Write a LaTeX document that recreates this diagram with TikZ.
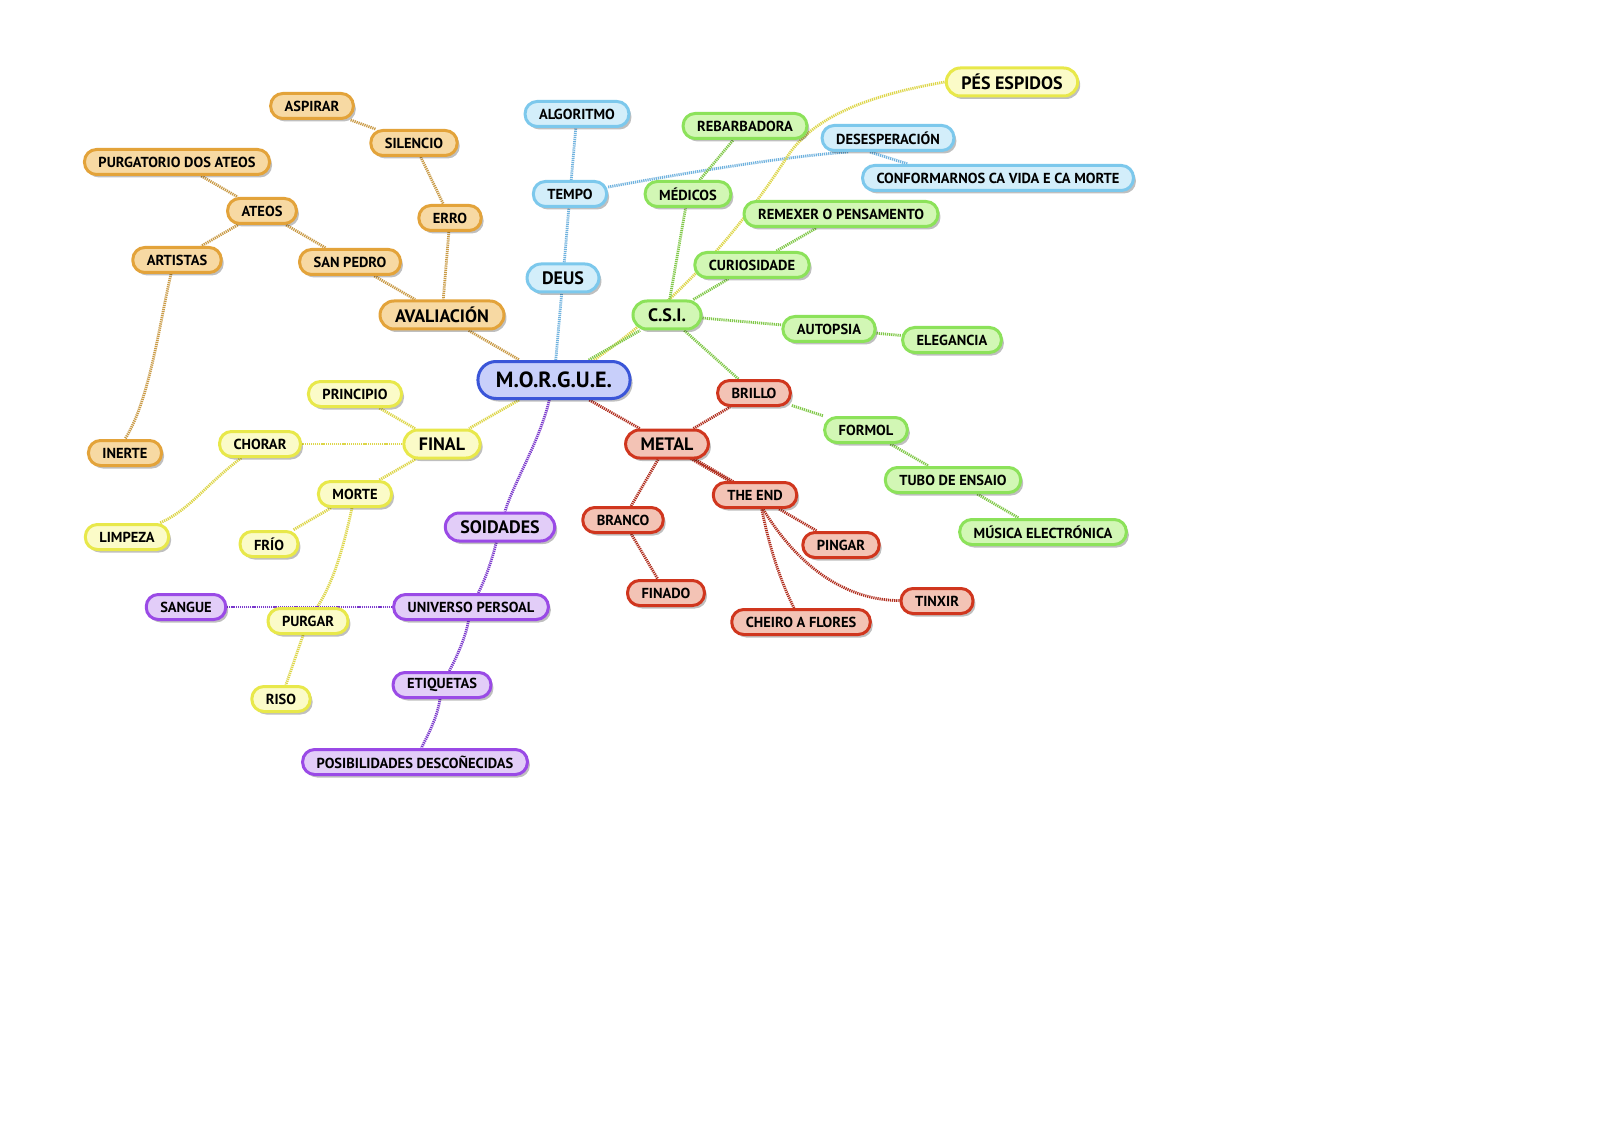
\documentclass[tikz,border=0pt]{standalone}
\usepackage{fontspec}
\setmainfont{PT Sans}
\usetikzlibrary{shadows,backgrounds}
\definecolor{rootB}{HTML}{3A55D8}\definecolor{rootF}{HTML}{C8CFFA}
\definecolor{oB}{HTML}{E3A33A}\definecolor{oF}{HTML}{F7D9A3}\definecolor{oE}{HTML}{C99A45}
\definecolor{bB}{HTML}{7CC8EC}\definecolor{bF}{HTML}{D3EEFA}\definecolor{bE}{HTML}{6FB2DE}
\definecolor{gB}{HTML}{8CE25A}\definecolor{gF}{HTML}{D2F7B5}\definecolor{gE}{HTML}{80C848}
\definecolor{rB}{HTML}{D0361E}\definecolor{rF}{HTML}{F3C3B5}\definecolor{rE}{HTML}{B02C1C}
\definecolor{yB}{HTML}{E8E84A}\definecolor{yF}{HTML}{FBFBC8}\definecolor{yE}{HTML}{DDD648}
\definecolor{pB}{HTML}{9A4AE6}\definecolor{pF}{HTML}{E2CDF8}\definecolor{pE}{HTML}{7A38CC}
\begin{document}
\begin{tikzpicture}[x=1pt,y=-1pt,
  nd/.style={rectangle, rounded corners=12pt, line width=3pt, minimum height=25pt,
    inner xsep=14pt, inner ysep=2pt, font=\fontsize{14.5}{15}\selectfont\bfseries, text=black,
    drop shadow={shadow xshift=2.5pt,shadow yshift=-3pt,opacity=0.25,fill=black}},
  big/.style={minimum height=28pt, rounded corners=14pt, inner xsep=15pt, font=\fontsize{18}{19}\selectfont\bfseries},
  rootnode/.style={nd, draw=rootB, fill=rootF, minimum height=37pt, rounded corners=18pt,
    inner xsep=18pt, font=\fontsize{22}{24}\selectfont\bfseries},
  on/.style={nd, draw=oB, fill=oF},
  bn/.style={nd, draw=bB, fill=bF},
  gn/.style={nd, draw=gB, fill=gF},
  rn/.style={nd, draw=rB, fill=rF},
  yn/.style={nd, draw=yB, fill=yF},
  pn/.style={nd, draw=pB, fill=pF},
  lk/.style={line width=2.8pt, dash pattern=on 1.2pt off 0.9pt},
  oe/.style={lk, draw=oE}, be/.style={lk, draw=bE}, ge/.style={lk, draw=gE},
  re/.style={lk, draw=rE}, ye/.style={lk, draw=yE}, pe/.style={lk, draw=pE}
]
\useasboundingbox (0,0) rectangle (1600,1131);

% root
\node[rootnode] (morgue) at (554,380) {M.O.R.G.U.E.};

% orange
\node[on] (aspirar) at (312,106) {ASPIRAR};
\node[on] (silencio) at (414,143) {SILENCIO};
\node[on] (purgatorio) at (177,162) {PURGATORIO DOS ATEOS};
\node[on] (ateos) at (262,211) {ATEOS};
\node[on] (erro) at (450,218) {ERRO};
\node[on] (artistas) at (177,260) {ARTISTAS};
\node[on] (sanpedro) at (350,262) {SAN PEDRO};
\node[on,big] (avaliacion) at (442,315) {AVALIACIÓN};
\node[on] (inerte) at (125,453) {INERTE};

% blue
\node[bn] (algoritmo) at (577,114) {ALGORITMO};
\node[bn] (tempo) at (570,194) {TEMPO};
\node[bn,big] (deus) at (563,278) {DEUS};
\node[bn] (desesperacion) at (888,138) {DESESPERACIÓN};
\node[bn] (conformarnos) at (998,178) {CONFORMARNOS CA VIDA E CA MORTE};

% yellow top
\node[yn,big] (pes) at (1012,82) {PÉS ESPIDOS};

% green
\node[gn] (rebarbadora) at (745,126) {REBARBADORA};
\node[gn] (medicos) at (688,194) {MÉDICOS};
\node[gn] (remexer) at (841,214) {REMEXER O PENSAMENTO};
\node[gn] (curiosidade) at (752,265) {CURIOSIDADE};
\node[gn,big] (csi) at (667,315) {C.S.I.};
\node[gn] (autopsia) at (829,329) {AUTOPSIA};
\node[gn] (elegancia) at (952,340) {ELEGANCIA};
\node[gn] (formol) at (866,430) {FORMOL};
\node[gn] (tubo) at (953,480) {TUBO DE ENSAIO};
\node[gn] (musica) at (1043,532) {MÚSICA ELECTRÓNICA};

% red
\node[rn] (brillo) at (754,393) {BRILLO};
\node[rn,big] (metal) at (667,444) {METAL};
\node[rn] (theend) at (755,495) {THE END};
\node[rn] (branco) at (623,520) {BRANCO};
\node[rn] (pingar) at (841,545) {PINGAR};
\node[rn] (finado) at (666,593) {FINADO};
\node[rn] (tinxir) at (937,601) {TINXIR};
\node[rn] (cheiro) at (801,622) {CHEIRO A FLORES};

% yellow
\node[yn] (principio) at (355,394) {PRINCIPIO};
\node[yn,big] (final) at (442,444) {FINAL};
\node[yn] (chorar) at (260,444) {CHORAR};
\node[yn] (morte) at (355,494) {MORTE};
\node[yn] (limpeza) at (127,537) {LIMPEZA};
\node[yn] (frio) at (269,544) {FRÍO};
\node[yn] (purgar) at (308,621) {PURGAR};
\node[yn] (riso) at (281,699) {RISO};

% purple
\node[pn,big] (soidades) at (500,527) {SOIDADES};
\node[pn] (universo) at (471,607) {UNIVERSO PERSOAL};
\node[pn] (sangue) at (186,607) {SANGUE};
\node[pn] (etiquetas) at (442,685) {ETIQUETAS};
\node[pn] (posib) at (415,762) {POSIBILIDADES DESCOÑECIDAS};

\begin{pgfonlayer}{background}
\fill[white] (0,0) rectangle (1600,1131);
% orange
\draw[oe] (aspirar) -- (silencio);
\draw[oe] (silencio) -- (erro);
\draw[oe] (erro) -- (avaliacion);
\draw[oe] (purgatorio) -- (ateos);
\draw[oe] (ateos) -- (artistas);
\draw[oe] (ateos) -- (sanpedro);
\draw[oe] (sanpedro) -- (avaliacion);
\draw[oe] ([xshift=-6pt]artistas.south) .. controls (160,320) and (150,400) .. (inerte.north);
\draw[oe] (avaliacion) -- (morgue);
% blue
\draw[be] (morgue) -- (deus);
\draw[be] (deus) -- (tempo);
\draw[be] (tempo) -- (algoritmo);
\draw[be] (tempo) .. controls (690,172) and (790,156) .. ([xshift=-40pt]desesperacion.south);
\draw[be] ([xshift=-18pt]desesperacion.south) -- ([xshift=-90pt]conformarnos.north);
% yellow long link
\draw[ye] ([xshift=40pt]morgue.north) .. controls (680,300) and (740,230) .. (787,157)
  .. controls (805,130) and (840,100) .. (pes.west);
% green
\draw[ge] (morgue) -- (csi);
\draw[ge] (csi) -- (medicos);
\draw[ge] (medicos) -- (rebarbadora);
\draw[ge] (csi) -- (curiosidade);
\draw[ge] (curiosidade) -- (remexer);
\draw[ge] (csi) -- (autopsia);
\draw[ge] (autopsia) -- (elegancia);
\draw[ge] (csi) -- (brillo);
\draw[ge] (brillo) -- (formol);
\draw[ge] (formol) -- (tubo);
\draw[ge] (tubo) -- (musica);
% red
\draw[re] (morgue) -- (metal);
\draw[re] (metal) -- (brillo);
\draw[re] ([xshift=-2pt,yshift=2pt]metal.center) -- ([xshift=-2pt,yshift=2pt]theend.center);
\draw[re] ([xshift=2pt,yshift=-2pt]metal.center) -- ([xshift=2pt,yshift=-2pt]theend.center);
\draw[re] (metal) -- (branco);
\draw[re] (branco) -- (finado);
\draw[re] (theend) -- (pingar);
\draw[re] (theend.center) .. controls (790,560) and (840,600) .. (tinxir);
\draw[re] ([xshift=4pt]theend.center) .. controls (768,545) and (780,580) .. (cheiro);
% yellow
\draw[ye] (morgue) -- (final);
\draw[ye] (final) -- (principio);
\draw[ye] (final) -- (chorar);
\draw[ye] (chorar) .. controls (205,485) and (190,510) .. (limpeza);
\draw[ye] (final) -- (morte);
\draw[ye] (morte) -- (frio);
\draw[ye] (morte) .. controls (345,540) and (335,580) .. (purgar);
\draw[ye] (purgar) -- (riso);
% purple
\draw[pe] (morgue) .. controls (540,440) and (515,480) .. (soidades);
\draw[pe] (soidades) .. controls (492,560) and (485,580) .. (universo);
\draw[pe] (universo) -- (sangue);
\draw[pe] (universo) .. controls (465,640) and (455,660) .. (etiquetas);
\draw[pe] (etiquetas) .. controls (437,720) and (425,740) .. (posib);
\end{pgfonlayer}
\end{tikzpicture}
\end{document}
